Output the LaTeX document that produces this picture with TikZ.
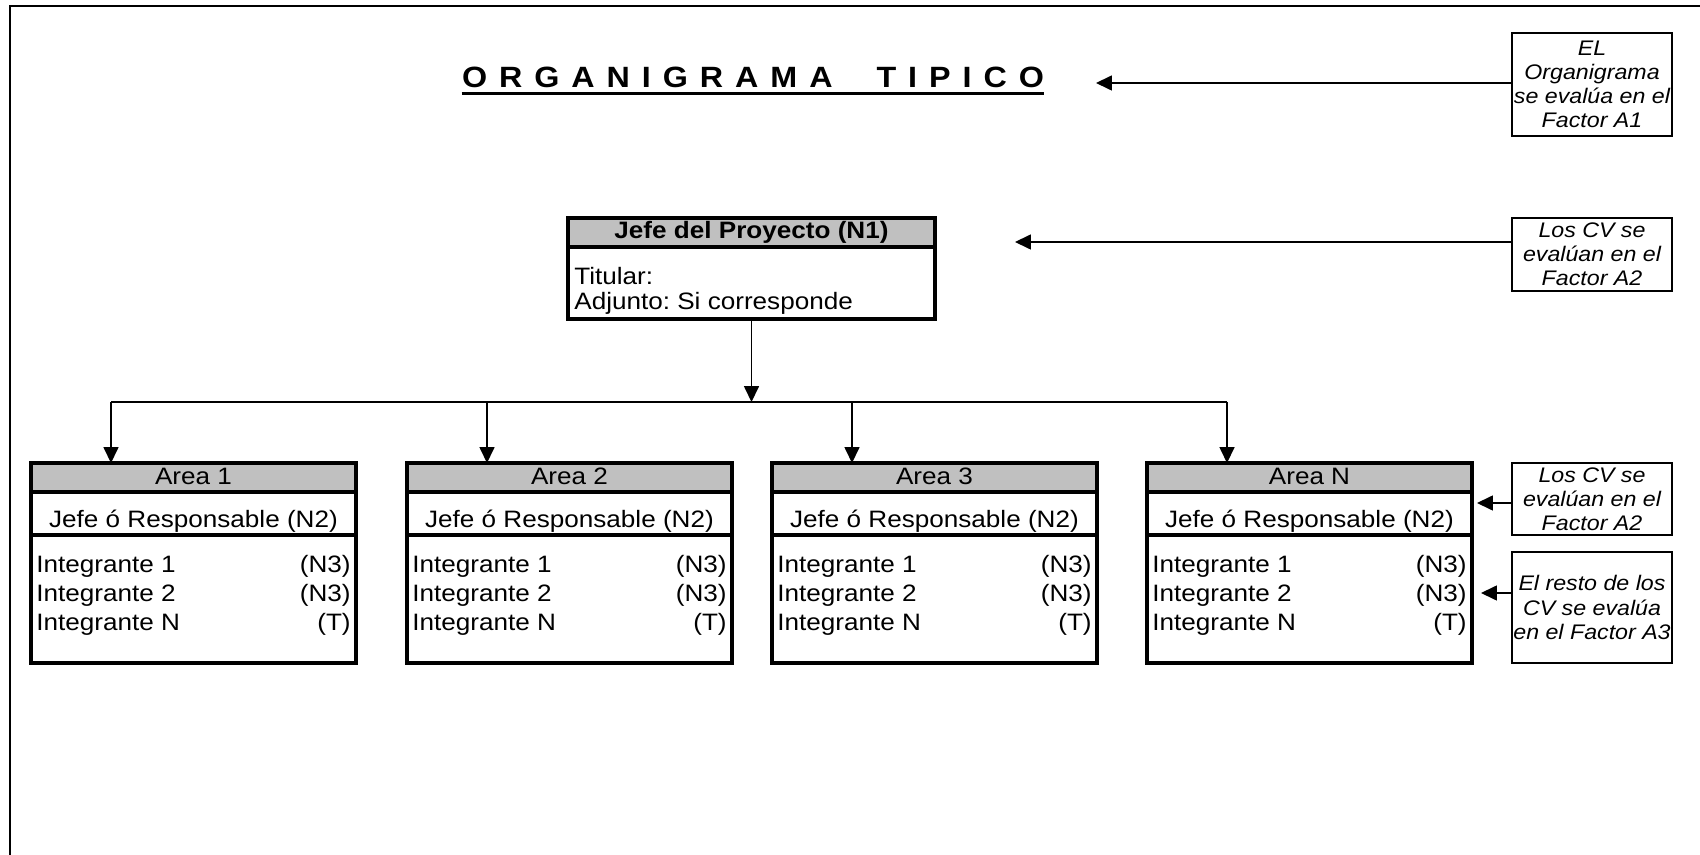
\documentclass[tikz,border=0pt]{standalone}
\usepackage{fontspec}
\setmainfont{Liberation Sans}[FakeStretch=1.1]
\usetikzlibrary{calc,arrows.meta}
\frenchspacing

\definecolor{gris}{RGB}{192,192,192}

\tikzset{
  every node/.style={inner sep=0pt},
  marco/.style={line width=1.3pt},
  titulo/.style={anchor=base,font=\fontsize{16.7}{20}\selectfont\bfseries},
  subrayado/.style={line width=1.8pt},
  caja/.style={draw,line width=1.9pt,outer sep=0pt,
    path picture={\fill[gris] (path picture bounding box.north west) rectangle ($(path picture bounding box.north east)+(0,-0.58)$);}},
  sep/.style={line width=1.9pt},
  nota/.style={draw,line width=1.1pt,minimum width=3.2cm,align=center,
    font=\fontsize{12}{13.7}\selectfont\itshape},
  linea/.style={line width=0.75pt},
  flecha/.style={line width=0.75pt,-{Triangle[length=9pt,width=8.5pt]}}
}

\begin{document}
\begin{tikzpicture}[font=\fontsize{13.5}{16}\selectfont]
\useasboundingbox (0,0) rectangle (34,-17.1);

% marco
\draw[marco] (0.2,-17.3) -- (0.2,-0.12) -- (34.2,-0.12);

% titulo
\node[titulo] (titulo) at (15.06,-1.76) {\spaceskip=6.8pt\relax O R G A N I G R A M A\hskip25pt\relax T I P I C O};
\draw[subrayado] ($(titulo.base west)+(0,-0.11)$) -- ($(titulo.base east)+(0,-0.11)$);

% jefe del proyecto
\node[caja,minimum width=7.34cm,minimum height=2.02cm] (jefe) at (15.03,-5.37) {};
\draw[sep] ($(jefe.north west)+(0,-0.58)$) -- ($(jefe.north east)+(0,-0.58)$);
\node[anchor=base] (jefe-t) at ($(jefe.north)+(0,-0.41)$) {\textbf{Jefe del Proyecto (N1)}};
\node[anchor=base west] (jefe-tit) at ($(jefe.north west)+(0.12,-1.34)$) {Titular:};
\node[anchor=base west] (jefe-adj) at ($(jefe.north west)+(0.12,-1.84)$) {Adjunto: Si corresponde};

% areas
\foreach \n/\x/\t in {a1/3.87/1, a2/11.39/2, a3/18.69/3, aN/26.19/N}{
  \node[caja,minimum width=6.5cm,minimum height=4cm] (\n) at (\x,-11.26) {};
  \draw[sep] ($(\n.north west)+(0,-0.58)$) -- ($(\n.north east)+(0,-0.58)$);
  \draw[sep] ($(\n.north west)+(0,-1.44)$) -- ($(\n.north east)+(0,-1.44)$);
  \node[anchor=base] (\n-t) at ($(\n.north)+(0,-0.43)$) {Area \t};
  \node[anchor=base] (\n-j) at ($(\n.north)+(0,-1.30)$) {Jefe ó Responsable (N2)};
  \node[anchor=base west] (\n-i1) at ($(\n.north west)+(0.1,-2.20)$) {Integrante 1};
  \node[anchor=base west] (\n-i2) at ($(\n.north west)+(0.1,-2.78)$) {Integrante 2};
  \node[anchor=base west] (\n-i3) at ($(\n.north west)+(0.1,-3.34)$) {Integrante N};
  \node[anchor=base east] (\n-n1) at ($(\n.north east)+(-0.1,-2.20)$) {(N3)};
  \node[anchor=base east] (\n-n2) at ($(\n.north east)+(-0.1,-2.78)$) {(N3)};
  \node[anchor=base east] (\n-n3) at ($(\n.north east)+(-0.1,-3.34)$) {(T)};
  \coordinate (b\n) at (\x-1.65,-8.04);
  \draw[flecha] (b\n) -- (b\n |- \n.north);
}

\draw[linea] (ba1) -- (baN);
\draw[flecha] (jefe.south) -- (jefe.south |- ba1);

% notas
\node[nota,minimum height=2.06cm] (nota1) at (31.84,-1.69) {EL\\Organigrama\\se evalúa en el\\Factor A1};
\node[nota,minimum height=1.46cm] (nota2) at (31.84,-5.09) {Los CV se\\evalúan en el\\Factor A2};
\node[nota,minimum height=1.44cm] (nota3) at (31.84,-9.98) {Los CV se\\evalúan en el\\Factor A2};
\node[nota,minimum height=2.22cm] (nota4) at (31.84,-12.15) {El resto de los\\CV se evalúa\\en el Factor A3};

\coordinate (t1) at (21.92,-1.66);
\coordinate (t2) at (20.30,-4.84);
\coordinate (t3) at (29.54,-10.06);
\coordinate (t4) at (29.62,-11.86);
\draw[flecha] (nota1.west |- t1) -- (t1);
\draw[flecha] (nota2.west |- t2) -- (t2);
\draw[flecha] (nota3.west |- t3) -- (t3);
\draw[flecha] (nota4.west |- t4) -- (t4);

\end{tikzpicture}
\end{document}
